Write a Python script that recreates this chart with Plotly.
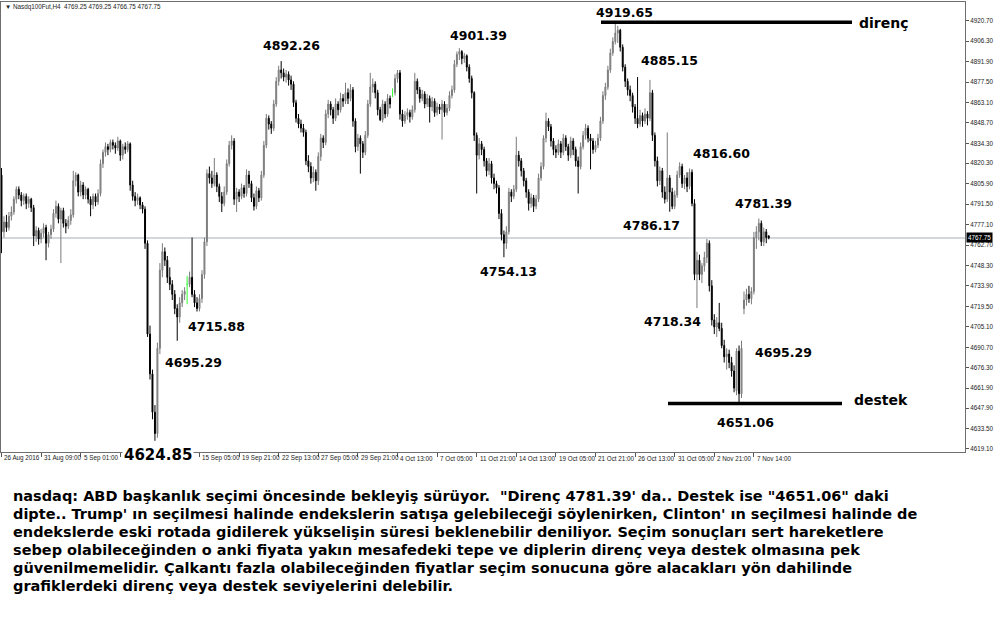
import plotly.graph_objects as go

# ---------------- data (Nasdq100Fut, H4) ----------------
opens = [
 4812,4772,4779,4775,4783,4786,4795,4802,4798,4794,
 4797,4792,4795,4789,4769,4773,4767,4771,4775,4764,
 4770,4774,4785,4790,4781,4787,4778,4776,4780,4784,
 4808,4812,4800,4805,4798,4802,4795,4791,4797,4793,
 4799,4820,4828,4832,4830,4835,4833,4831,4836,4826,
 4832,4830,4834,4805,4797,4794,4796,4791,4788,4764,
 4700,4672,4645,4630,4690,4745,4758,4752,4740,4735,
 4728,4718,4712,4722,4728,4735,4735,4740,4728,4722,
 4718,4725,4742,4765,4813,4810,4806,4812,4804,4797,
 4792,4800,4820,4833,4836,4795,4800,4797,4803,4799,
 4812,4806,4796,4790,4801,4796,4812,4833,4852,4848,
 4845,4862,4878,4886,4884,4881,4883,4879,4876,4863,
 4852,4848,4845,4842,4822,4818,4810,4814,4808,4825,
 4838,4835,4855,4862,4858,4852,4862,4858,4866,4864,
 4870,4866,4872,4850,4832,4838,4834,4828,4840,4862,
 4874,4876,4870,4858,4851,4862,4855,4866,4870,4870,
 4880,4884,4855,4850,4854,4856,4853,4858,4878,4872,
 4866,4869,4862,4866,4860,4864,4856,4860,4858,4862,
 4856,4859,4868,4872,4890,4897,4899,4894,4896,4888,
 4880,4870,4840,4826,4834,4830,4822,4815,4820,4810,
 4806,4803,4785,4770,4764,4772,4800,4797,4802,4826,
 4822,4815,4808,4800,4792,4796,4790,4795,4810,4818,
 4838,4850,4846,4836,4830,4828,4834,4828,4838,4832,
 4826,4836,4830,4822,4818,4832,4840,4845,4838,4836,
 4830,4833,4838,4850,4868,4874,4886,4898,4906,4912,
 4914,4902,4888,4878,4872,4868,4860,4852,4848,4854,
 4850,4855,4852,4870,4840,4822,4808,4815,4800,4795,
 4810,4800,4790,4798,4812,4818,4806,4810,4804,4814,
 4792,4742,4752,4742,4748,4754,4764,4734,4710,4705,
 4708,4704,4692,4684,4686,4680,4674,4660,4688,4658,
 4718,4724,4728,4725,4730,4768,4772,4778,4765,4772,
 4769.25]
highs = [
 4817,4783,4784,4786,4790,4797,4804,4804,4800,4799,
 4799,4797,4796,4791,4776,4775,4774,4778,4777,4772,
 4777,4788,4794,4792,4789,4789,4781,4783,4788,4815,
 4814,4813,4808,4807,4804,4803,4797,4799,4799,4802,
 4823,4830,4835,4834,4837,4837,4835,4839,4837,4834,
 4835,4836,4835,4808,4800,4799,4797,4793,4790,4766,
 4706,4675,4650,4694,4750,4764,4761,4755,4747,4738,
 4731,4721,4726,4731,4733,4741,4744,4768,4731,4726,
 4728,4745,4768,4816,4818,4815,4824,4814,4806,4800,
 4804,4823,4836,4840,4838,4803,4802,4806,4805,4816,
 4815,4808,4799,4804,4803,4815,4836,4855,4854,4850,
 4865,4881,4889,4892.26,4887,4886,4885,4882,4878,4865,
 4855,4851,4848,4844,4826,4821,4818,4816,4828,4841,
 4840,4858,4865,4864,4860,4866,4864,4870,4869,4877,
 4873,4876,4874,4852,4841,4840,4836,4843,4865,4884,
 4880,4878,4872,4860,4865,4864,4869,4868,4873,4883,
 4886,4886,4858,4857,4859,4858,4861,4884,4880,4874,
 4872,4871,4869,4868,4867,4866,4863,4862,4865,4864,
 4862,4871,4875,4893,4899,4901.39,4900,4898,4897,4890,
 4882,4871,4842,4838,4836,4832,4824,4824,4822,4813,
 4808,4805,4788,4773,4776,4803,4802,4805,4839,4829,
 4824,4817,4810,4802,4799,4798,4798,4813,4821,4840,
 4856,4852,4848,4838,4833,4837,4836,4841,4840,4834,
 4839,4838,4832,4825,4835,4843,4848,4847,4841,4838,
 4836,4841,4853,4871,4877,4889,4901,4909,4919.65,4917,
 4915,4904,4890,4880,4875,4870,4862,4881,4858,4856,
 4859,4857,4879,4872,4842,4825,4818,4817,4804,4842,
 4812,4803,4801,4815,4821,4820,4812,4814,4816.6,4816,
 4795,4758,4756,4750,4758,4767,4766,4738,4714,4712,
 4722,4708,4696,4690,4689,4684,4678,4690,4692,4695.29,
 4730,4732,4734,4733,4772,4776,4781.39,4780,4775,4774,
 4769.25]
lows = [
 4757,4768,4772,4773,4780,4784,4792,4795,4790,4791,
 4788,4789,4786,4762,4765,4763,4764,4768,4752,4761,
 4767,4772,4782,4778,4750,4775,4771,4774,4777,4782,
 4804,4797,4797,4795,4795,4792,4783,4788,4790,4791,
 4797,4817,4825,4826,4828,4830,4827,4829,4822,4823,
 4827,4828,4801,4794,4790,4791,4788,4785,4760,4698,
 4668,4640,4624.85,4627,4686,4740,4748,4736,4731,4724,
 4714,4695.29,4708,4719,4724,4721,4733,4726,4719,4715.88,
 4716,4722,4739,4762,4806,4803,4804,4800,4793,4786,
 4790,4798,4818,4830,4791,4786,4793,4795,4796,4797,
 4803,4793,4787,4788,4793,4794,4810,4831,4844,4841,
 4843,4860,4875,4880,4878,4877,4875,4872,4860,4849,
 4845,4842,4839,4819,4814,4806,4807,4801,4805,4822,
 4831,4833,4852,4854,4848,4850,4854,4856,4860,4862,
 4862,4864,4846,4828,4829,4813,4824,4826,4838,4860,
 4870,4866,4854,4850,4849,4852,4853,4859,4867,4868,
 4877,4851,4846,4848,4851,4849,4851,4856,4869,4863,
 4864,4859,4860,4849,4857,4853,4854,4855,4837,4853,
 4854,4857,4866,4870,4888,4893,4890,4891,4885,4877,
 4866,4836,4799,4823,4826,4818,4811,4812,4806,4802,
 4799,4781,4766,4754.13,4760,4770,4793,4795,4800,4818,
 4811,4804,4796,4787,4789,4786,4788,4793,4808,4816,
 4835,4843,4832,4826,4824,4826,4824,4826,4829,4822,
 4824,4826,4818,4799,4816,4830,4837,4835,4816,4827,
 4828,4831,4836,4848,4865,4872,4884,4896,4904,4905,
 4899,4885,4874,4868,4864,4856,4848,4845,4846,4846,
 4848,4847,4850,4836,4818,4804,4805,4796,4792,4793,
 4786.17,4788,4788,4796,4810,4803,4802,4800,4802,4790,
 4738,4718.34,4738,4736,4744,4750,4730,4706,4700,4698,
 4702,4690,4680,4675,4676,4670,4659,4657,4651.06,4655,
 4714,4720,4722,4721,4728,4760,4766,4762,4762,4764,
 4766.75]
closes = [
 4772,4779,4775,4783,4786,4795,4802,4798,4794,4797,
 4792,4795,4789,4769,4773,4767,4771,4775,4764,4770,
 4774,4785,4790,4781,4787,4778,4776,4780,4784,4808,
 4812,4800,4805,4798,4802,4795,4791,4797,4793,4799,
 4820,4828,4832,4830,4835,4833,4831,4836,4826,4832,
 4830,4834,4805,4797,4794,4796,4791,4788,4764,4700,
 4672,4645,4630,4690,4745,4758,4752,4740,4735,4728,
 4718,4712,4722,4728,4730,4735,4740,4728,4722,4718,
 4725,4742,4765,4813,4810,4806,4812,4804,4797,4792,
 4800,4820,4833,4836,4795,4800,4797,4803,4799,4812,
 4806,4796,4790,4801,4796,4812,4833,4852,4848,4845,
 4862,4878,4886,4884,4881,4883,4879,4876,4863,4852,
 4848,4845,4842,4822,4818,4810,4814,4808,4825,4838,
 4835,4855,4862,4858,4852,4862,4858,4866,4864,4870,
 4866,4872,4850,4832,4838,4834,4828,4840,4862,4874,
 4876,4870,4858,4851,4862,4855,4866,4862,4870,4880,
 4884,4855,4850,4854,4856,4853,4858,4878,4872,4866,
 4869,4862,4866,4860,4864,4856,4860,4858,4862,4856,
 4859,4868,4872,4890,4897,4899,4894,4896,4888,4880,
 4870,4840,4826,4834,4830,4822,4815,4820,4810,4806,
 4803,4785,4770,4764,4772,4800,4797,4802,4826,4822,
 4815,4808,4800,4792,4796,4790,4795,4810,4818,4838,
 4850,4846,4836,4830,4828,4834,4828,4838,4832,4826,
 4836,4830,4822,4818,4832,4840,4845,4838,4836,4830,
 4833,4838,4850,4868,4874,4886,4898,4906,4912,4914,
 4902,4888,4878,4872,4868,4860,4852,4848,4854,4850,
 4855,4852,4870,4840,4822,4808,4815,4800,4795,4810,
 4800,4790,4798,4812,4818,4806,4810,4804,4814,4792,
 4742,4752,4742,4748,4754,4764,4734,4710,4705,4708,
 4704,4692,4684,4686,4680,4674,4662,4688,4658,4690,
 4724,4728,4725,4730,4768,4772,4778,4765,4772,4768,
 4767.75]

x_tick_idx = [0, 16, 32, 48, 64, 80, 96, 112, 128, 144, 160, 176, 192, 208,
              224, 240, 256, 272, 288, 304]
# labels at 48 and 64 are hidden under the 4624.85 callout in the reference
x_tick_text = ["26 Aug 2016", "31 Aug 09:00", "5 Sep 01:00", "", "",
               "15 Sep 05:00", "19 Sep 21:00", "22 Sep 13:00", "27 Sep 05:00",
               "29 Sep 21:00", "4 Oct 13:00", "7 Oct 05:00", "11 Oct 21:00",
               "14 Oct 13:00", "19 Oct 05:00", "21 Oct 21:00", "26 Oct 13:00",
               "31 Oct 05:00", "2 Nov 21:00", "7 Nov 14:00"]
y_tick_vals = [4920.70, 4906.30, 4891.90, 4877.50, 4863.10, 4848.70, 4834.30,
               4820.30, 4805.90, 4791.50, 4777.10, 4762.70, 4748.30, 4733.90,
               4719.50, 4705.10, 4690.70, 4676.30, 4661.90, 4647.90, 4633.50,
               4619.10]

level_names = ["direnç", "destek"]
level_prices = [4919.65, 4651.06]

callout_texts = ["4892.26", "4901.39", "4919.65", "4885.15", "4816.60", "4781.39",
                 "4786.17", "4754.13", "4715.88", "4695.29", "4718.34", "4695.29",
                 "4651.06"]
low_label = "4624.85"
header_symbol = "Nasdq100Fut,H4"
header_ohlc = ["4769.25", "4769.25", "4766.75", "4767.75"]

comment_lines = [
    'nasdaq: ABD başkanlık seçimi öncesinde bekleyiş sürüyor.\u00a0 "Direnç 4781.39\' da.. Destek ise "4651.06" daki',
    "dipte.. Trump' ın seçilmesi halinde endekslerin satışa gelebileceği söylenirken, Clinton' ın seçilmesi halinde de",
    "endekslerde eski rotada gidilerek yükselişin süresi beklenebilir deniliyor. Seçim sonuçları sert hareketlere",
    "sebep olabileceğinden o anki fiyata yakın mesafedeki tepe ve diplerin direnç veya destek olmasına pek",
    "güvenilmemelidir. Çalkantı fazla olabileceğinden fiyatlar seçim sonucuna göre alacakları yön dahilinde",
    "grafiklerdeki direnç veya destek seviyelerini delebilir.",
]

# ---------------- layout helpers (pixels -> paper) ----------------
W, H = 1000, 619
ML, MR, MT, MB = 1, 35, 2, 167
PW, PH = W - ML - MR, H - MT - MB
def px(x):
    return (x - ML) / PW
def py(y):
    return (H - MB - y) / PH

callout_pos = [(291, 46), (478, 35), (624, 12), (669, 61), (721, 154), (763, 203),
               (651, 225), (508, 271), (216, 326), (193, 362), (672, 321),
               (783, 352), (745, 422)]
level_span = [(601, 852), (668, 842)]
level_label_pos = [(857, 23), (852, 400)]

n = len(closes)
xs = list(range(n))
normal = [i for i in xs if opens[i] != closes[i]]
doji = [i for i in xs if opens[i] == closes[i]]

fig = go.Figure()
fig.add_trace(go.Candlestick(
    x=[xs[i] for i in normal],
    open=[opens[i] for i in normal], high=[highs[i] for i in normal],
    low=[lows[i] for i in normal], close=[closes[i] for i in normal],
    increasing=dict(line=dict(color="#7a7a7a", width=1), fillcolor="#a8a8a8"),
    decreasing=dict(line=dict(color="#000000", width=1), fillcolor="#000000"),
    whiskerwidth=0, showlegend=False, hoverinfo="skip"))
fig.add_trace(go.Candlestick(
    x=[xs[i] for i in doji],
    open=[opens[i] for i in doji], high=[highs[i] for i in doji],
    low=[lows[i] for i in doji], close=[closes[i] for i in doji],
    increasing=dict(line=dict(color="#33ff33", width=1), fillcolor="#33ff33"),
    decreasing=dict(line=dict(color="#33ff33", width=1), fillcolor="#33ff33"),
    whiskerwidth=0, showlegend=False, hoverinfo="skip"))

shapes = []
# current price line
shapes.append(dict(type="line", xref="paper", yref="y", x0=0, x1=1,
                   y0=closes[-1], y1=closes[-1],
                   line=dict(color="#c3cad1", width=1.5), layer="below"))
for (x0, x1), lvl in zip(level_span, level_prices):
    shapes.append(dict(type="line", xref="paper", yref="y", x0=px(x0), x1=px(x1),
                       y0=lvl, y1=lvl, line=dict(color="#000000", width=3.5)))

ann = []
small = dict(family="Liberation Sans, Arial, sans-serif", size=6.3, color="#222222")
for idx, txt in zip(x_tick_idx, x_tick_text):
    if txt:
        ann.append(dict(x=idx, y=py(458), xref="x", yref="paper", text=txt,
                        showarrow=False, xanchor="left", yanchor="middle",
                        xshift=1, font=small))
# header
ann.append(dict(x=px(3), y=py(7), xref="paper", yref="paper",
                text="▼ " + header_symbol + "\u00a0 " + " ".join(header_ohlc),
                showarrow=False, xanchor="left", yanchor="middle", font=small))
# current price box
ann.append(dict(x=px(966), y=closes[-1], xref="paper", yref="y",
                text="{:.2f}".format(closes[-1]), showarrow=False, xanchor="left",
                yanchor="middle", bgcolor="#000000", borderpad=1,
                font=dict(family="Liberation Sans, Arial, sans-serif", size=6.3,
                          color="#ffffff")))
bold = dict(family="DejaVu Sans", size=12.5, color="#000000")
for txt, (cx, cy) in zip(callout_texts, callout_pos):
    ann.append(dict(x=px(cx), y=py(cy), xref="paper", yref="paper", text="<b>%s</b>" % txt,
                    showarrow=False, xanchor="center", yanchor="middle", font=bold))
for name, (lx, ly) in zip(level_names, level_label_pos):
    ann.append(dict(x=px(lx), y=py(ly), xref="paper", yref="paper", text="<b>%s</b>" % name,
                    showarrow=False, xanchor="left", yanchor="middle",
                    font=dict(family="DejaVu Sans", size=14, color="#000000")))
ann.append(dict(x=px(158), y=py(455), xref="paper", yref="paper", text="<b>%s</b>" % low_label,
                showarrow=False, xanchor="center", yanchor="middle", bgcolor="#ffffff",
                borderpad=1, font=dict(family="DejaVu Sans", size=15, color="#000000")))
for k, line in enumerate(comment_lines):
    ann.append(dict(x=px(11), y=py(496 + 18 * k), xref="paper", yref="paper",
                    text="<b>%s</b>" % line, showarrow=False, xanchor="left",
                    yanchor="middle",
                    font=dict(family="DejaVu Sans", size=14.5, color="#000000")))

fig.update_layout(
    template="none",
    width=W, height=H,
    margin=dict(l=ML, r=MR, t=MT, b=MB, pad=0),
    paper_bgcolor="#ffffff", plot_bgcolor="#ffffff",
    boxgap=0.45,
    shapes=shapes, annotations=ann,
    xaxis=dict(range=[-0.2, 389.3], rangeslider=dict(visible=False), showgrid=False,
               zeroline=False, showline=True, mirror=True, linecolor="#6e6e6e",
               linewidth=1, tickvals=x_tick_idx, ticks="outside", ticklen=4,
               tickcolor="#555555", showticklabels=False, automargin=False,
               fixedrange=True),
    yaxis=dict(range=[4616.97, 4933.87], side="right", showgrid=False, zeroline=False,
               showline=True, mirror=True, linecolor="#6e6e6e", linewidth=1,
               tickvals=y_tick_vals, ticktext=["%.2f" % v for v in y_tick_vals],
               ticks="outside", ticklen=3, tickcolor="#555555",
               tickfont=small, automargin=False, fixedrange=True),
)
fig.write_html("out.html", config={"displayModeBar": False},
               post_script="document.body.style.margin='0';document.body.style.padding='0';")
